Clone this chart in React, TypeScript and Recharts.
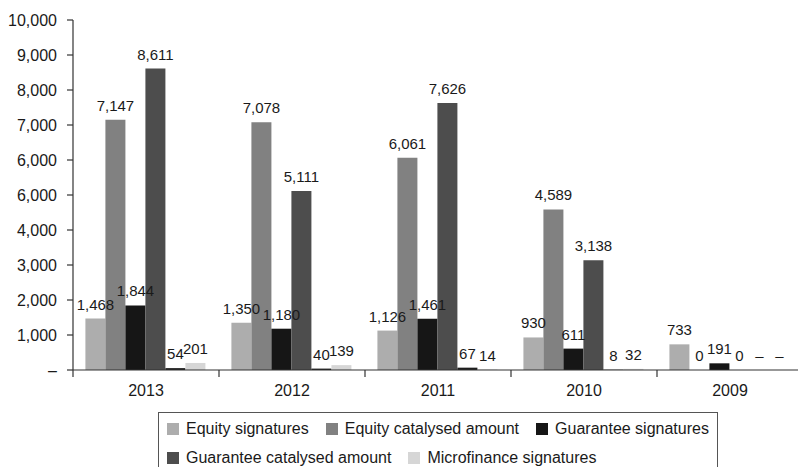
import React from 'react';
import { BarChart, Bar, XAxis, YAxis, LabelList } from 'recharts';

const FONT = '"Liberation Sans", Arial, Helvetica, sans-serif';

const years = ['2013', '2012', '2011', '2010', '2009'];
const equitySignatures = [1468, 1350, 1126, 930, 733];
const equityCatalysed = [7147, 7078, 6061, 4589, 0];
const guaranteeSignatures = [1844, 1180, 1461, 611, 191];
const guaranteeCatalysed = [8611, 5111, 7626, 3138, 0];
const otherSignatures = [54, 40, 67, 8, 0];
const microfinanceSignatures = [201, 139, 14, 32, 0];

const otherLabels = ['54', '40', '67', '8', '–'];
const microfinanceLabels = ['201', '139', '14', '32', '–'];

const yTicks = [0, 1000, 2000, 3000, 4000, 5000, 6000, 7000, 8000, 9000, 10000];
const yTickLabels = ['–', '1,000', '2,000', '3,000', '4,000', '6,000', '6,000', '7,000', '8,000', '9,000', '10,000'];

const fmt = (v: number) => v.toLocaleString('en-US');

const series = [
  { key: 'eqSig', name: 'Equity signatures', color: '#adadad', values: equitySignatures, labels: equitySignatures.map(fmt), legend: true },
  { key: 'eqCat', name: 'Equity catalysed amount', color: '#818181', values: equityCatalysed, labels: equityCatalysed.map(fmt), legend: true },
  { key: 'guSig', name: 'Guarantee signatures', color: '#161616', values: guaranteeSignatures, labels: guaranteeSignatures.map(fmt), legend: true },
  { key: 'guCat', name: 'Guarantee catalysed amount', color: '#4d4d4d', values: guaranteeCatalysed, labels: guaranteeCatalysed.map(fmt), legend: true },
  { key: 'other', name: 'Other signatures', color: '#1e1e1e', values: otherSignatures, labels: otherLabels, legend: false },
  { key: 'micro', name: 'Microfinance signatures', color: '#d6d6d6', values: microfinanceSignatures, labels: microfinanceLabels, legend: true },
];

const data = years.map((year, i) => {
  const row: Record<string, any> = { year };
  series.forEach((s) => {
    row[s.key] = s.values[i];
    row[s.key + 'Label'] = s.labels[i];
  });
  return row;
});

const XTick = (props: any) => {
  const { x, y, payload, width, visibleTicksCount } = props;
  const band = width && visibleTicksCount ? width / visibleTicksCount : 146;
  const lx = x - band / 2;
  return (
    <g>
      <line x1={lx} x2={lx} y1={y} y2={y + 7} stroke="#333" strokeWidth={1.2} />
      <text x={x} y={y + 20} dy="0.355em" textAnchor="middle" fontSize={16} fill="#1a1a1a" fontFamily={FONT}>
        {payload.value}
      </text>
    </g>
  );
};

const legendRows = [
  series.filter((s) => s.legend).slice(0, 3),
  series.filter((s) => s.legend).slice(3),
];

export default function App() {
  return (
    <div style={{ position: 'absolute', left: 0, top: 0, width: 798, height: 467, overflow: 'hidden', background: '#fff' }}>
      <BarChart
        width={810}
        height={467}
        data={data}
        margin={{ top: 20, right: 7, bottom: 67, left: 0 }}
        barCategoryGap="8.5%"
        barGap={0}
      >
        <XAxis
          dataKey="year"
          tickLine={false}
          tickSize={0}
          tickMargin={0}
          axisLine={{ stroke: '#333', strokeWidth: 1.2 }}
          tick={<XTick />}
          interval={0}
        />
        <YAxis
          domain={[0, 10000]}
          ticks={yTicks}
          interval={0}
          width={73}
          tickSize={6}
          tickMargin={10}
          axisLine={{ stroke: '#333', strokeWidth: 1.2 }}
          tickLine={{ stroke: '#333', strokeWidth: 1.2 }}
          tick={{ fontSize: 16, fill: '#1a1a1a', fontFamily: FONT }}
          tickFormatter={(v: number) => yTickLabels[yTicks.indexOf(v)]}
        />
        {series.map((s) => (
          <Bar
            key={s.key}
            dataKey={s.key}
            name={s.name}
            fill={s.color}
            minPointSize={0.01}
            isAnimationActive={false}
            legendType={s.legend ? 'square' : 'none'}
          >
            <LabelList
              dataKey={s.key + 'Label'}
              position="top"
              offset={9}
              style={{ fontSize: 15, fill: '#1a1a1a', fontFamily: FONT }}
            />
          </Bar>
        ))}
      </BarChart>
      <div
        style={{
          position: 'absolute',
          left: 158,
          top: 412,
          width: 560,
          height: 80,
          border: '1px solid #555',
          boxSizing: 'border-box',
          fontFamily: FONT,
          fontSize: 16,
          color: '#1a1a1a',
          paddingLeft: 8,
          paddingTop: 1,
        }}
      >
        {legendRows.map((row, ri) => (
          <div key={ri} style={{ display: 'flex', alignItems: 'center', height: 29, whiteSpace: 'nowrap' }}>
            {row.map((s) => (
              <div key={s.key} style={{ display: 'flex', alignItems: 'center', marginRight: 17 }}>
                <span style={{ display: 'inline-block', width: 12, height: 12, background: s.color, marginRight: 7 }} />
                <span>{s.name}</span>
              </div>
            ))}
          </div>
        ))}
      </div>
    </div>
  );
}
